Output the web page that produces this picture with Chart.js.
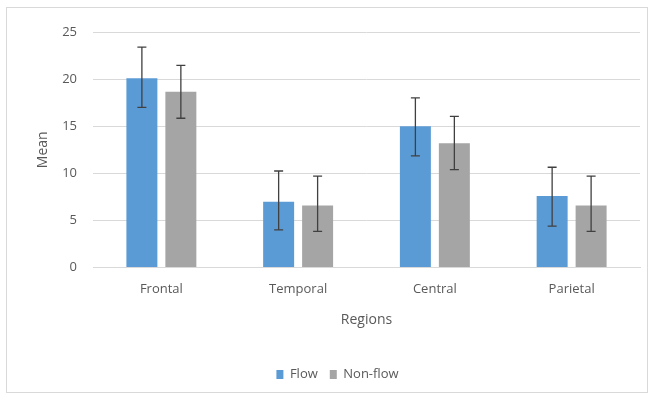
<!DOCTYPE html>
<html>
<head>
<meta charset="utf-8">
<script src="https://cdn.jsdelivr.net/npm/chart.js@4.4.1/dist/chart.umd.min.js"></script>
<style>
html,body{margin:0;padding:0;background:#fff;}
#wrap{width:654px;height:397px;position:relative;}
</style>
</head>
<body>
<div id="wrap"><canvas id="c" width="654" height="397"></canvas></div>
<script>
const categories = ['Frontal', 'Temporal', 'Central', 'Parietal'];
const flowMean = [20.1, 7.0, 15.0, 7.6];
const flowLow  = [17.0, 4.0, 11.85, 4.4];
const flowHigh = [23.4, 10.25, 18.0, 10.65];
const nonFlowMean = [18.65, 6.6, 13.2, 6.6];
const nonFlowLow  = [15.85, 3.85, 10.4, 3.85];
const nonFlowHigh = [21.45, 9.7, 16.05, 9.7];
const yTicks = [0, 5, 10, 15, 20, 25];

const FONT = '"Open Sans", Lato, sans-serif';
const TXT = '#595959';

const frame = {
  id: 'frame',
  beforeDraw(chart) {
    const ctx = chart.ctx;
    ctx.save();
    ctx.fillStyle = '#fff';
    ctx.fillRect(0, 0, chart.width, chart.height);
    ctx.strokeStyle = '#d9d9d9';
    ctx.lineWidth = 1;
    ctx.strokeRect(6.5, 7.5, 641, 385);
    ctx.restore();
  }
};

const errorBars = {
  id: 'errorBars',
  afterDatasetsDraw(chart) {
    const ctx = chart.ctx;
    const y = chart.scales.y;
    ctx.save();
    ctx.strokeStyle = '#404040';
    ctx.lineWidth = 1.3;
    chart.data.datasets.forEach((ds, di) => {
      const meta = chart.getDatasetMeta(di);
      meta.data.forEach((bar, i) => {
        const x = bar.x;
        const yl = y.getPixelForValue(ds.low[i]);
        const yh = y.getPixelForValue(ds.high[i]);
        ctx.beginPath();
        ctx.moveTo(x, yl); ctx.lineTo(x, yh);
        ctx.moveTo(x - 4.5, yl); ctx.lineTo(x + 4.5, yl);
        ctx.moveTo(x - 4.5, yh); ctx.lineTo(x + 4.5, yh);
        ctx.stroke();
      });
    });
    ctx.restore();
  }
};

new Chart(document.getElementById('c'), {
  type: 'bar',
  data: {
    labels: categories,
    datasets: [
      { label: 'Flow', data: flowMean, low: flowLow, high: flowHigh, backgroundColor: '#5b9bd5' },
      { label: 'Non-flow', data: nonFlowMean, low: nonFlowLow, high: nonFlowHigh, backgroundColor: '#a5a5a5' }
    ]
  },
  options: {
    responsive: false,
    animation: false,
    devicePixelRatio: 1,
    datasets: { bar: { barPercentage: 0.795, categoryPercentage: 0.57 } },
    layout: { padding: { left: 35, right: 14, top: 32, bottom: 6 } },
    plugins: {
      tooltip: { enabled: false },
      legend: {
        position: 'bottom',
        labels: { font: { family: FONT, size: 13 }, color: TXT, boxWidth: 7, boxHeight: 9, padding: 12 }
      }
    },
    scales: {
      x: {
        grid: { display: false, drawTicks: false },
        border: { display: true, color: '#d9d9d9' },
        ticks: { font: { family: FONT, size: 13 }, color: TXT, padding: 14 },
        title: { display: true, text: 'Regions', font: { family: FONT, size: 14 }, color: TXT, padding: { top: 0, bottom: 28 } }
      },
      y: {
        min: 0, max: 25,
        afterBuildTicks(scale) { scale.ticks = yTicks.map(v => ({ value: v })); },
        afterFit(scale) { scale.width = 58; },
        grid: { color: '#d9d9d9', drawTicks: false },
        border: { display: false },
        ticks: { font: { family: FONT, size: 13 }, color: TXT, padding: 16 },
        title: { display: true, text: 'Mean', font: { family: FONT, size: 14 }, color: TXT, padding: { top: 0, bottom: 4 } }
      }
    }
  },
  plugins: [frame, errorBars]
});
</script>
</body>
</html>
